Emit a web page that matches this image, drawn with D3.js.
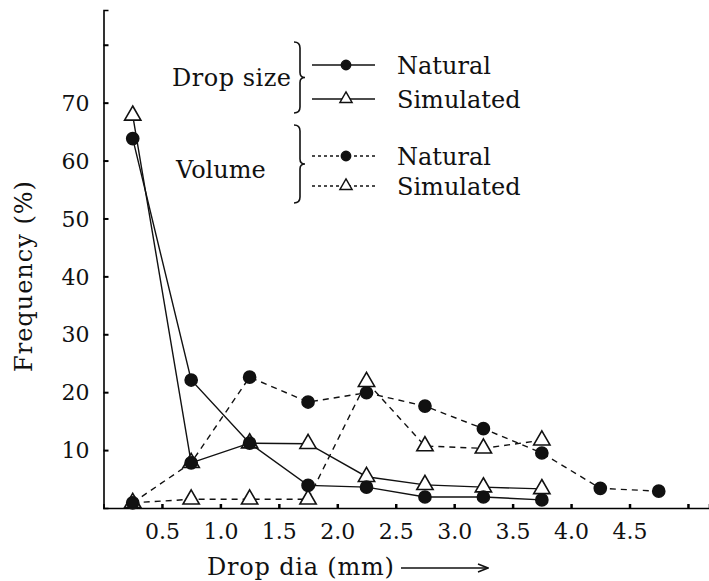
<!DOCTYPE html>
<html lang="en">
  <head>
    <meta charset="utf-8">
    <title>Drop dia frequency</title>
    <script src="https://d3js.org/d3.v7.min.js"></script>
    <style>
      body { margin: 0; background: #fff; }
      svg text { font-family: 'DejaVu Serif', 'Liberation Serif', 'Times New Roman', serif !important; fill: #111; }
    </style>
  </head>
  <body>
    <div id="chart"></div>
    <script>
      // Drop diameter class midpoints (mm)
      var dia = [0.25, 0.75, 1.25, 1.75, 2.25, 2.75, 3.25, 3.75, 4.25, 4.75];

      // Frequency (%)
      var sizeNatural   = [63.8, 22.1, 11.2, 3.9, 3.6, 1.9, 1.9, 1.4];
      var sizeSimulated = [67.8, 7.8, 11.2, 11.1, 5.4, 4.0, 3.6, 3.3];
      var volNatural    = [0.9, 7.8, 22.6, 18.3, 19.9, 17.6, 13.7, 9.5, 3.4, 2.9];
      var volSimulated  = [0.9, 1.5, 1.5, 1.5, 21.8, 10.7, 10.3, 11.7];

      var xTicks = [0.5, 1.0, 1.5, 2.0, 2.5, 3.0, 3.5, 4.0, 4.5, 5.0];
      var yTicks = [10, 20, 30, 40, 50, 60, 70, 80];

      var width = 709, height = 581;

      var svg = d3.select("#chart").append("svg")
          .attr("width", width)
          .attr("height", height);

      var x = d3.scaleLinear().domain([0, 5.18]).range([103.5, 709]);
      var y = d3.scaleLinear().domain([0, 86]).range([508, 10]);

      // axes
      svg.append("g")
          .attr("transform", "translate(0," + y(0) + ")")
          .call(d3.axisBottom(x).tickValues(xTicks).tickSize(-4).tickPadding(10)
            .tickFormat(function(d) { return d < 5 ? d.toFixed(1) : ""; }))
          .call(function(g) {
            g.attr("font-family", null);
            g.select(".domain").attr("stroke-width", 1.6);
            g.selectAll(".tick line").attr("stroke-width", 2.5);
            g.selectAll(".tick text").attr("font-size", 22).attr("dy", "0.95em");
          });

      svg.append("g")
          .attr("transform", "translate(" + x(0) + ",0)")
          .call(d3.axisLeft(y).tickValues(yTicks).tickSize(-5).tickPadding(14)
            .tickFormat(function(d) { return d < 80 ? d : ""; }))
          .call(function(g) {
            g.attr("font-family", null);
            g.select(".domain").attr("stroke-width", 1.6);
            g.selectAll(".tick line").attr("stroke-width", 2);
            g.selectAll(".tick text").attr("font-size", 22).attr("dy", "0.35em");
          });

      // axis titles
      svg.append("text")
          .attr("transform", "translate(32," + 276 + ") rotate(-90)")
          .attr("text-anchor", "middle")
          .attr("font-size", 24)
          .attr("letter-spacing", 1)
          .text("Frequency (%)");

      svg.append("text")
          .attr("x", 207).attr("y", 575)
          .attr("font-size", 24)
          .attr("letter-spacing", 0.8)
          .text("Drop dia (mm)");

      svg.append("defs").append("marker")
          .attr("id", "arrow")
          .attr("viewBox", "0 0 10 10")
          .attr("refX", 9).attr("refY", 5)
          .attr("markerWidth", 12).attr("markerHeight", 10)
          .attr("markerUnits", "userSpaceOnUse")
          .attr("orient", "auto")
          .append("path").attr("d", "M0,1 L10,5 L0,9").attr("fill", "none").attr("stroke", "#111").attr("stroke-width", 1.5);

      svg.append("line")
          .attr("x1", 401).attr("x2", 487).attr("y1", 568).attr("y2", 568)
          .attr("stroke", "#111").attr("stroke-width", 1.6)
          .attr("marker-end", "url(#arrow)");

      // series
      var series = [
        {values: sizeNatural, dash: null, symbol: "circle"},
        {values: sizeSimulated, dash: null, symbol: "triangle"},
        {values: volNatural, dash: "6,5", symbol: "circle"},
        {values: volSimulated, dash: "6,5", symbol: "triangle"}
      ];

      var line = d3.line()
          .x(function(d) { return x(d[0]); })
          .y(function(d) { return y(d[1]); });

      series.forEach(function(s) {
        s.points = s.values.map(function(v, i) { return [dia[i], v]; });
        svg.append("path")
            .attr("d", line(s.points))
            .attr("fill", "none")
            .attr("stroke", "#111")
            .attr("stroke-width", 1.4)
            .attr("stroke-dasharray", s.dash);
      });

      var tri = d3.symbol().type(d3.symbolTriangle).size(115);
      var dot = d3.symbol().type(d3.symbolCircle).size(115);

      // triangles first, dots on top
      [series[1], series[3], series[0], series[2]].forEach(function(s) {
        svg.append("g").selectAll("path")
            .data(s.points)
            .enter().append("path")
            .attr("transform", function(d) { return "translate(" + x(d[0]) + "," + y(d[1]) + ")"; })
            .attr("d", s.symbol === "circle" ? dot : tri)
            .attr("fill", s.symbol === "circle" ? "#111" : "#fff")
            .attr("stroke", "#111")
            .attr("stroke-width", 1.6);
      });

      // legend
      function brace(bx, y1, y2) {
        var m = (y1 + y2) / 2;
        return "M" + bx + "," + y1 +
          " q6,0 6,6 L" + (bx + 6) + "," + (m - 5) +
          " q0,5 5,5 q-5,0 -5,5 L" + (bx + 6) + "," + (y2 - 6) +
          " q0,6 -6,6";
      }

      var groups = [
        {label: "Drop size", ty: 86, y1: 42, y2: 113, items: [
          {name: "Natural", ly: 65, symbol: "circle", dash: null},
          {name: "Simulated", ly: 99, symbol: "triangle", dash: null}]},
        {label: "Volume", ty: 178, y1: 125, y2: 203, items: [
          {name: "Natural", ly: 156, symbol: "circle", dash: "3,3"},
          {name: "Simulated", ly: 186, symbol: "triangle", dash: "3,3"}]}
      ];

      groups.forEach(function(g, gi) {
        svg.append("text")
            .attr("x", gi === 0 ? 172 : 176).attr("y", g.ty)
            .attr("font-size", 24)
            .attr("letter-spacing", gi === 0 ? 0.5 : 0)
            .text(g.label);
        svg.append("path")
            .attr("d", brace(294, g.y1, g.y2))
            .attr("fill", "none").attr("stroke", "#111").attr("stroke-width", 1.6);
        g.items.forEach(function(it) {
          svg.append("line")
              .attr("x1", 312).attr("x2", 375).attr("y1", it.ly).attr("y2", it.ly)
              .attr("stroke", "#111").attr("stroke-width", 1.4)
              .attr("stroke-dasharray", it.dash);
          svg.append("path")
              .attr("transform", "translate(346," + it.ly + ")")
              .attr("d", it.symbol === "circle" ? d3.symbol().type(d3.symbolCircle).size(70)() : d3.symbol().type(d3.symbolTriangle).size(65)())
              .attr("fill", it.symbol === "circle" ? "#111" : "#fff")
              .attr("stroke", "#111").attr("stroke-width", 1.4);
          svg.append("text")
              .attr("x", 397).attr("y", it.ly + 9)
              .attr("font-size", 24)
              .text(it.name);
        });
      });
    </script>
  </body>
</html>
